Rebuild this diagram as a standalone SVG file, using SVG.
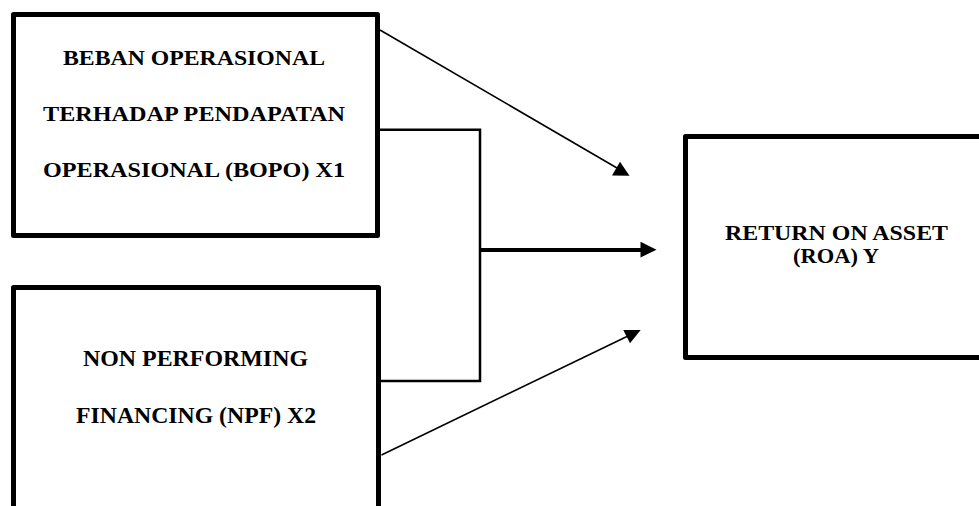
<svg xmlns="http://www.w3.org/2000/svg" width="979" height="506" viewBox="0 0 979 506">
<style>
.box{fill:#fff;stroke:#000;stroke-width:5;stroke-linejoin:round}
.t{font-family:"Liberation Serif","Times New Roman",serif;font-weight:bold;fill:#000;text-anchor:middle}
.ln{fill:none;stroke:#000}
.ah{fill:#000}
</style>
<rect width="979" height="506" fill="#fff"/>
<g id="node-bopo">
<rect class="box" x="13.5" y="14.5" width="364" height="221"/>
<text class="t" font-size="20.5" x="194" y="64.5" textLength="262" lengthAdjust="spacingAndGlyphs">BEBAN OPERASIONAL</text>
<text class="t" font-size="20.5" x="194" y="120.5" textLength="302" lengthAdjust="spacingAndGlyphs">TERHADAP PENDAPATAN</text>
<text class="t" font-size="20.5" x="194" y="176.5" textLength="302" lengthAdjust="spacingAndGlyphs">OPERASIONAL (BOPO) X1</text>
</g>
<g id="node-npf">
<rect class="box" x="13.5" y="287.5" width="365" height="240"/>
<text class="t" font-size="23" x="195.5" y="366" textLength="225" lengthAdjust="spacingAndGlyphs">NON PERFORMING</text>
<text class="t" font-size="23" x="196" y="422.7" textLength="240" lengthAdjust="spacingAndGlyphs">FINANCING (NPF) X2</text>
</g>
<g id="node-roa">
<rect class="box" x="685.5" y="136.5" width="320" height="221"/>
<text class="t" font-size="21.5" x="836.5" y="240" textLength="223" lengthAdjust="spacingAndGlyphs">RETURN ON ASSET</text>
<text class="t" font-size="21.5" x="836" y="262.5" textLength="86" lengthAdjust="spacingAndGlyphs">(ROA) Y</text>
</g>
<g id="connectors">
<line class="ln" stroke-width="1.6" x1="380" y1="30" x2="617" y2="168"/>
<polygon class="ah" points="612,175.5 620,161.7 629.5,175.8"/>
<polyline class="ln" stroke-width="2.5" points="380,129.7 480,129.7 480,381 380,381"/>
<line class="ln" stroke-width="4" x1="480" y1="250" x2="642" y2="250"/>
<polygon class="ah" points="640.5,241.7 656.5,249.7 640.5,257.5"/>
<line class="ln" stroke-width="1.6" x1="381.5" y1="455" x2="628" y2="336"/>
<polygon class="ah" points="623.3,330 640.7,330 630,343.3"/>
</g>
</svg>
